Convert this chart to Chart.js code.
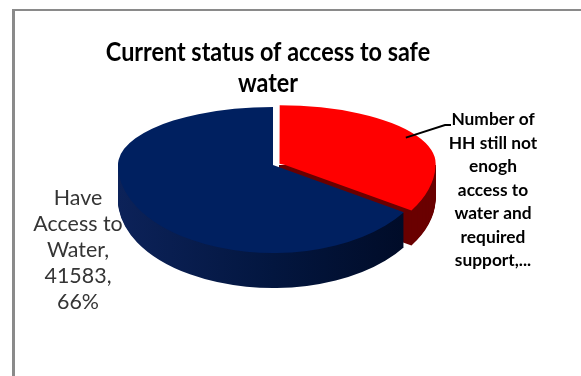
<!DOCTYPE html>
<html>
<head>
<meta charset="utf-8">
<script src="https://cdn.jsdelivr.net/npm/chart.js@4.4.1/dist/chart.umd.min.js"></script>
<style>
  html, body { margin: 0; padding: 0; background: #ffffff; overflow: hidden; }
  #wrap { position: relative; width: 581px; height: 376px; }
  canvas { display: block; }
</style>
</head>
<body>
<div id="wrap"><canvas id="chart" width="581" height="376"></canvas></div>
<script>
// Households by water-access status
const chartTitle = 'Current status of access to safe water';
const categories = [
  'Number of HH still not enogh access to water and required support',
  'Have Access to Water'
];
const households = [21420, 41583];
const sliceColors = ['#ff0000', '#002060'];
const sideColors = ['#6a0000', null];          // null -> blue side gradient
const explode = [28, 0];

// 3-D view of the pie: projected half-axes and wall height (px)
const VIEW = { rx: 155, ryBack: 58, ryFront: 88, depth: 35 };

const FONT = 'Lato, "Open Sans", sans-serif';

function wrapWords(ctx, text, maxWidth, xScale, maxLines) {
  const words = text.split(' ');
  const lines = [];
  let cur = '';
  for (const w of words) {
    const test = cur ? cur + ' ' + w : w;
    if (cur && ctx.measureText(test).width * xScale > maxWidth) {
      lines.push(cur);
      cur = w;
    } else {
      cur = test;
    }
  }
  if (cur) lines.push(cur);
  if (maxLines && lines.length > maxLines) {
    const kept = lines.slice(0, maxLines);
    kept[maxLines - 1] = kept[maxLines - 1] + '...';
    return kept;
  }
  return lines;
}

function drawBlock(ctx, lines, cx, y0, lineH, xScale) {
  lines.forEach((ln, i) => {
    ctx.save();
    ctx.translate(cx, y0 + i * lineH);
    ctx.scale(xScale, 1);
    ctx.fillText(ln, 0, 0);
    ctx.restore();
  });
}

// Frame line of the chart box
const framePlugin = {
  id: 'frame',
  beforeDraw(chart) {
    const ctx = chart.ctx;
    ctx.save();
    ctx.fillStyle = '#ffffff';
    ctx.fillRect(0, 0, chart.width, chart.height);
    ctx.fillStyle = '#8a8a8a';
    ctx.fillRect(12, 9, chart.width - 12, 2);
    ctx.fillRect(12, 9, 3, chart.height - 9);
    ctx.restore();
  }
};

// Draws the pie as a tilted disc with a visible wall
const pie3dPlugin = {
  id: 'pie3d',
  beforeDatasetsDraw(chart) {
    const ctx = chart.ctx;
    const arcs = chart.getDatasetMeta(0).data;
    const { x: cx, y: cy, outerRadius: R } = arcs[0];
    const sx = VIEW.rx / R, sBack = VIEW.ryBack / R, sFront = VIEW.ryFront / R;
    const W = chart.width, H = chart.height;

    const paint = (idx, fill, sy, dy, top, bottom) => {
      ctx.save();
      ctx.beginPath();
      ctx.rect(0, top, W, bottom - top);
      ctx.clip();
      ctx.translate(cx, cy + dy);
      ctx.scale(sx, sy);
      ctx.translate(-cx, -cy);
      const arc = arcs[idx];
      const saved = arc.options;
      arc.options = Object.assign({}, saved, { backgroundColor: fill(), borderWidth: 0 });
      arc.draw(ctx);
      arc.options = saved;
      ctx.restore();
    };

    const sideFill = (i) => () => {
      if (sideColors[i]) return sideColors[i];
      const g = ctx.createLinearGradient(cx - R, 0, cx + R, 0);
      g.addColorStop(0, '#0c2259');
      g.addColorStop(0.5, '#03163f');
      g.addColorStop(1, '#000a24');
      return g;
    };

    // walls (back slices first)
    arcs.forEach((arc, i) => {
      for (let k = VIEW.depth; k >= 1; k--) {
        paint(i, sideFill(i), sFront, k, cy, H);
      }
    });
    // top faces: back half and front half of the disc
    arcs.forEach((arc, i) => {
      paint(i, () => sliceColors[i], sBack, 0, 0, cy);
      paint(i, () => sliceColors[i], sFront, 0, cy, H);
    });
    return false;
  }
};

// Title and data labels
const labelPlugin = {
  id: 'labels3d',
  afterDraw(chart) {
    const ctx = chart.ctx;
    const arcs = chart.getDatasetMeta(0).data;
    const { x: cx, y: cy, outerRadius: R } = arcs[0];
    const sx = VIEW.rx / R, sBack = VIEW.ryBack / R, sFront = VIEW.ryFront / R;
    const total = households.reduce((a, b) => a + b, 0);
    const labelText = (i) => categories[i] + ', ' + households[i] + ', ' + Math.round(households[i] / total * 100) + '%';

    ctx.save();
    ctx.textAlign = 'center';
    ctx.textBaseline = 'middle';

    // title
    ctx.fillStyle = '#000000';
    ctx.font = 'bold 26px ' + FONT;
    const tScale = 0.9;
    drawBlock(ctx, wrapWords(ctx, chartTitle, 345, tScale), 268, 53, 31, tScale);

    // label of the blue slice (left)
    ctx.fillStyle = '#353535';
    ctx.font = '21px ' + FONT;
    const lScale = 1.02;
    drawBlock(ctx, wrapWords(ctx, labelText(1), 96, lScale), 78, 198, 26, lScale);

    // label of the red slice (right)
    ctx.fillStyle = '#000000';
    ctx.font = 'bold 17px ' + FONT;
    const rScale = 1.02;
    drawBlock(ctx, wrapWords(ctx, labelText(0), 94, rScale, 7), 493, 120, 23.5, rScale);

    // leader line from the red slice to its label
    const red = arcs[0];
    const mid = (red.startAngle + red.endAngle) / 2;
    const off = (red.options.offset || 0) / 4;
    const ux = Math.cos(mid), uy = Math.sin(mid);
    const rr = 0.93 * R + off;
    const px = cx + ux * rr * sx;
    const py = cy + uy * rr * (uy < 0 ? sBack : sFront);
    ctx.strokeStyle = '#000000';
    ctx.lineWidth = 2;
    ctx.beginPath();
    ctx.moveTo(px, py);
    ctx.lineTo(445, 125);
    ctx.lineTo(451, 125);
    ctx.stroke();
    ctx.restore();
  }
};

new Chart(document.getElementById('chart'), {
  type: 'pie',
  data: {
    labels: categories,
    datasets: [{
      data: households,
      backgroundColor: sliceColors,
      borderWidth: 0,
      offset: explode
    }]
  },
  options: {
    responsive: false,
    animation: false,
    layout: { padding: { left: 112, right: 147, top: 5, bottom: 51 } },
    plugins: {
      legend: { display: false },
      tooltip: { enabled: false },
      title: { display: false }
    }
  },
  plugins: [framePlugin, pie3dPlugin, labelPlugin]
});
</script>
</body>
</html>
